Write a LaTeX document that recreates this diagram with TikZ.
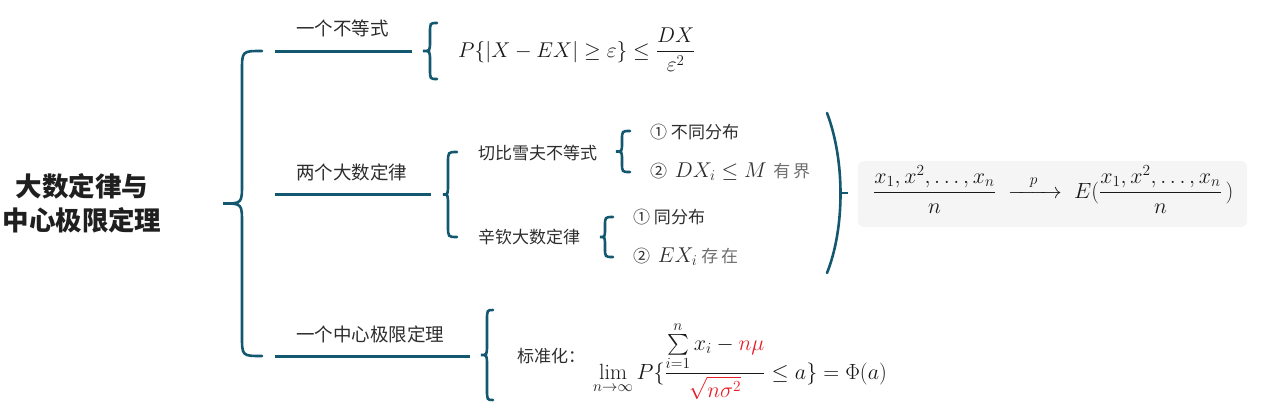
\RequirePackage{fix-cm}
\documentclass[tikz,border=0pt]{standalone}
\usepackage{amsmath}
\usepackage{fontspec}
\newfontfamily\cjk{Noto Sans CJK SC}
\definecolor{mainline}{RGB}{20,88,112}
\definecolor{txtdark}{RGB}{45,45,45}
\definecolor{txtlight}{RGB}{110,110,110}
\definecolor{mred}{RGB}{230,30,40}
\definecolor{boxgray}{RGB}{245,245,245}
\newcommand\brc[6]{\draw[br] (#1,#4) .. controls (#2,#4) .. (#2,{#4+#6}) -- (#2,{(#4+#5)/2-#6}) .. controls (#2,{(#4+#5)/2}) .. (#3,{(#4+#5)/2}) .. controls (#2,{(#4+#5)/2}) .. (#2,{(#4+#5)/2+#6}) -- (#2,{#5-#6}) .. controls (#2,#5) .. (#1,#5);}
\newcommand\mfs{\fontsize{21.4}{25}\selectfont}
\newcommand\mfl{\fontsize{22}{26}\selectfont}
\begin{document}
\begin{tikzpicture}[x=1pt,y=-1pt,
  ln/.style={draw=mainline, line width=3pt},
  br/.style={draw=mainline, line width=2.6pt, line cap=round},
  lbl/.style={font=\cjk\fontsize{18.5}{20}\selectfont, text=txtdark, anchor=west, inner sep=0pt},
  sub/.style={font=\cjk\fontsize{17}{19}\selectfont, text=txtdark, anchor=west, inner sep=0pt},
  mth/.style={font=\mfs, text=black!90, anchor=base west, inner sep=0pt}]
\useasboundingbox (0,0) rectangle (1262,410);
% title
\node[font=\cjk\bfseries\fontsize{26.5}{34}\selectfont, align=center, text=black!88] (title) at (82,203) {大数定律与\\中心极限定理};
% main brace
\brc{262}{242}{223}{51}{356}{20}
% branch lines
\coordinate (l1a) at (275,51); \coordinate (l1b) at (412,51);
\coordinate (l2a) at (275,194); \coordinate (l2b) at (431,194);
\coordinate (l3a) at (275,356); \coordinate (l3b) at (470,356);
\draw[ln] (l1a) -- (l1b);
\draw[ln] (l2a) -- (l2b);
\draw[ln] (l3a) -- (l3b);
\node[lbl] (t1) at (296,28) {一个不等式};
\node[lbl] (t2) at (296,172) {两个大数定律};
\node[lbl] (t3) at (296,334) {一个中心极限定理};
% branch 1
\brc{437}{430}{423}{23}{79}{10}
\node[mth] (f1) at (458,57) {$\displaystyle P\{|X-EX|\geq\varepsilon\}\leq\frac{DX}{\varepsilon^2}$};
% branch 2
\brc{457}{448}{443}{152}{237}{11}
\node[sub] (cb) at (478,153) {切比雪夫不等式};
\node[sub] (xq) at (478,237) {辛钦大数定律};
\brc{630}{622}{616}{131}{172}{9}
\node[sub] (c1) at (650,132) {① 不同分布};
\node[sub] (c2) at (650,172) {② \ {\mfs$DX_i\leq M$}\ \,\textcolor{txtlight}{有\,界}};
\brc{613}{605}{600}{217}{257}{9}
\node[sub] (x1) at (633,217) {① 同分布};
\node[sub] (x2) at (633,257) {② \ {\mfs$EX_i$}\ \textcolor{txtlight}{存\,在}};
% right paren and stub
\coordinate (pt) at (827,113); \coordinate (pb) at (827,273);
\draw[br] (pt) .. controls (845,160) and (845,228) .. (pb);
\coordinate (sa) at (840,193); \coordinate (sb) at (848,193);
\draw[draw=mainline, line width=1.6pt] (sa) -- (sb);
\node[fill=boxgray, rounded corners=6pt, minimum width=389pt, minimum height=66pt, inner sep=0pt] (box) at (1052.5,194) {};
\node[mth, font=\mfl] (f2) at (873,198) {$\displaystyle\frac{x_1,x^2,\ldots,x_n}{n}\;\xrightarrow{\makebox[42pt]{$\scriptstyle p$}}\;E(\frac{x_1,x^2,\ldots,x_n}{n}\,)$};
% branch 3
\brc{493}{487}{481}{310}{400}{11}
\node[sub] (bz) at (517,356) {标准化：};
\node[mth, font=\mfl] (f3) at (593,379) {$\displaystyle\lim_{n\to\infty}P\{\frac{\sum\limits_{i=1}^{n}x_i-{\color{mred}n\mu}}{\color{mred}\sqrt{n\sigma^2}}\leq a\}=\Phi(a)$};
\end{tikzpicture}
\end{document}
